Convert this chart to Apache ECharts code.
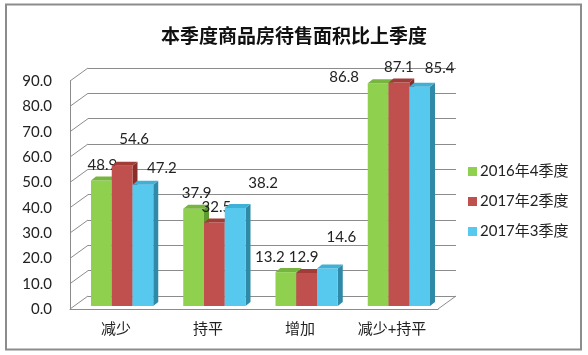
<!DOCTYPE html>
<html><head><meta charset="utf-8">
<script src="https://cdn.jsdelivr.net/npm/echarts@6/dist/echarts.min.js"></script>
<style>html,body{margin:0;padding:0;background:#fff}#c{width:588px;height:355px}</style>
</head><body><div id="c"></div>
<script>
const titleText = '本季度商品房待售面积比上季度';
const categories = ['减少', '持平', '增加', '减少+持平'];
const seriesNames = ['2016年4季度', '2017年2季度', '2017年3季度'];
const s2016q4 = [48.9, 37.9, 13.2, 86.8];
const s2017q2 = [54.6, 32.5, 12.9, 87.1];
const s2017q3 = [47.2, 38.2, 14.6, 85.4];
const yMin = 0, yMax = 90, yStep = 10;

const seriesValues = [s2016q4, s2017q2, s2017q3];
const palette = [
  {front: '#8fd14f', top: '#78b540', side: '#5f9a2e'},
  {front: '#c0504d', top: '#a23c39', side: '#8a2e2b'},
  {front: '#57c9ef', top: '#3fb0d6', side: '#2f8aa8'}
];
// label placement style (relative nudges of each value label, as placed in the original)
const labelStyleNudge = [
  [[1, -15], [3, -16], [-16, -15], [-34, -6]],
  [[12, -27], [2, -15], [-3, -16], [0, -15]],
  [[19, -17], [28, -25], [14, -31], [20, -19]]
];
const FONT = "Lato, 'Noto Sans CJK SC', sans-serif";
const DX = 5, DY = 4;

const chart = echarts.init(document.getElementById('c'), null, {renderer: 'canvas'});

const ticks = [];
for (let v = yMin; v <= yMax; v += yStep) ticks.push(v);

function barRender(si) {
  return function (params, api) {
    const ci = api.value(0), val = api.value(1);
    const top = api.coord([ci, val]);
    const base = api.coord([ci, 0]);
    const band = api.size([1, 0])[0];
    const w = band * 0.225;
    const x0 = top[0] + (si - 1) * w - w / 2;
    const ty = top[1], by = base[1];
    const c = palette[si];
    const nd = labelStyleNudge[si][params.dataIndex];
    return {
      type: 'group',
      children: [
        {type: 'polygon', shape: {points: [[x0 + w, ty], [x0 + w + DX, ty - DY], [x0 + w + DX, by - DY], [x0 + w, by]]}, style: {fill: c.side}},
        {type: 'rect', shape: {x: x0, y: ty, width: w, height: by - ty}, style: {fill: c.front}},
        {type: 'polygon', shape: {points: [[x0, ty], [x0 + DX, ty - DY], [x0 + w + DX, ty - DY], [x0 + w, ty]]}, style: {fill: c.top}},
        {type: 'text', style: {text: val.toFixed(1), x: x0 + w / 2 + nd[0], y: ty + nd[1], align: 'center', verticalAlign: 'middle', font: '15px ' + FONT, fill: '#222'}, z2: 10}
      ]
    };
  };
}

const barSeries = seriesNames.map((name, si) => ({
  name: name,
  type: 'custom',
  xAxisIndex: 0, yAxisIndex: 0,
  itemStyle: {color: palette[si].front},
  renderItem: barRender(si),
  data: seriesValues[si].map((v, i) => [i, v]),
  z: 5 + si
}));

const option = {
  animation: false,
  backgroundColor: '#fff',
  title: {
    text: titleText, left: 'center', top: 21,
    textStyle: {fontSize: 19, fontWeight: 'bold', color: '#111', fontFamily: "'Noto Sans CJK SC', sans-serif"}
  },
  legend: {
    orient: 'vertical', left: 463, top: 159,
    itemWidth: 9, itemHeight: 9, itemGap: 15, icon: 'rect',
    data: seriesNames,
    textStyle: {fontSize: 15, color: '#222', fontFamily: FONT, padding: [0, 0, 0, -2]}
  },
  graphic: [{
    type: 'rect', shape: {x: 6, y: 4.5, width: 575, height: 345},
    style: {fill: 'none', stroke: '#8c8c8c', lineWidth: 2}, z: 100
  }],
  grid: [
    {left: 76, right: 143, top: 75, bottom: 49},
    {left: 88, right: 132, top: 68, bottom: 59},
    {left: 70, right: 150, top: 81, bottom: 46}
  ],
  xAxis: [
    {gridIndex: 0, type: 'category', data: categories, show: false},
    {gridIndex: 1, type: 'category', data: categories, show: false},
    {gridIndex: 2, type: 'category', data: categories,
      axisLine: {show: true, lineStyle: {color: '#8c8c8c', width: 1}},
      axisTick: {show: false},
      axisLabel: {margin: 13, fontSize: 15, color: '#222', fontFamily: FONT}}
  ],
  yAxis: [
    {gridIndex: 0, type: 'value', min: yMin, max: yMax, interval: yStep, show: false},
    {gridIndex: 1, type: 'value', min: yMin, max: yMax, interval: yStep,
      axisLine: {show: false}, axisTick: {show: false}, axisLabel: {show: false},
      splitLine: {show: true, lineStyle: {color: '#8c8c8c', width: 1}}},
    {gridIndex: 2, type: 'value', min: yMin, max: yMax, interval: yStep,
      axisLine: {show: true, lineStyle: {color: '#8c8c8c', width: 1}},
      axisTick: {show: false}, splitLine: {show: false},
      axisLabel: {margin: 18, fontSize: 15, color: '#222', fontFamily: FONT, formatter: v => v.toFixed(1)}}
  ],
  series: [
    {
      type: 'custom', xAxisIndex: 2, yAxisIndex: 2, silent: true, z: 1,
      legendHoverLink: false,
      renderItem: function (params, api) {
        const v = api.value(0);
        const cs = params.coordSys;
        const y = api.coord([0, v])[1];
        const kids = [{type: 'line', shape: {x1: cs.x, y1: y, x2: cs.x + 18, y2: y - 13}, style: {stroke: '#8c8c8c', lineWidth: 1}}];
        if (v === 0) {
          kids.push({type: 'line', shape: {x1: cs.x + cs.width, y1: y, x2: cs.x + cs.width + 18, y2: y - 13}, style: {stroke: '#8c8c8c', lineWidth: 1}});
        }
        return {type: 'group', children: kids};
      },
      data: ticks.map(v => [v])
    }
  ].concat(barSeries)
};
chart.setOption(option);
</script></body></html>
